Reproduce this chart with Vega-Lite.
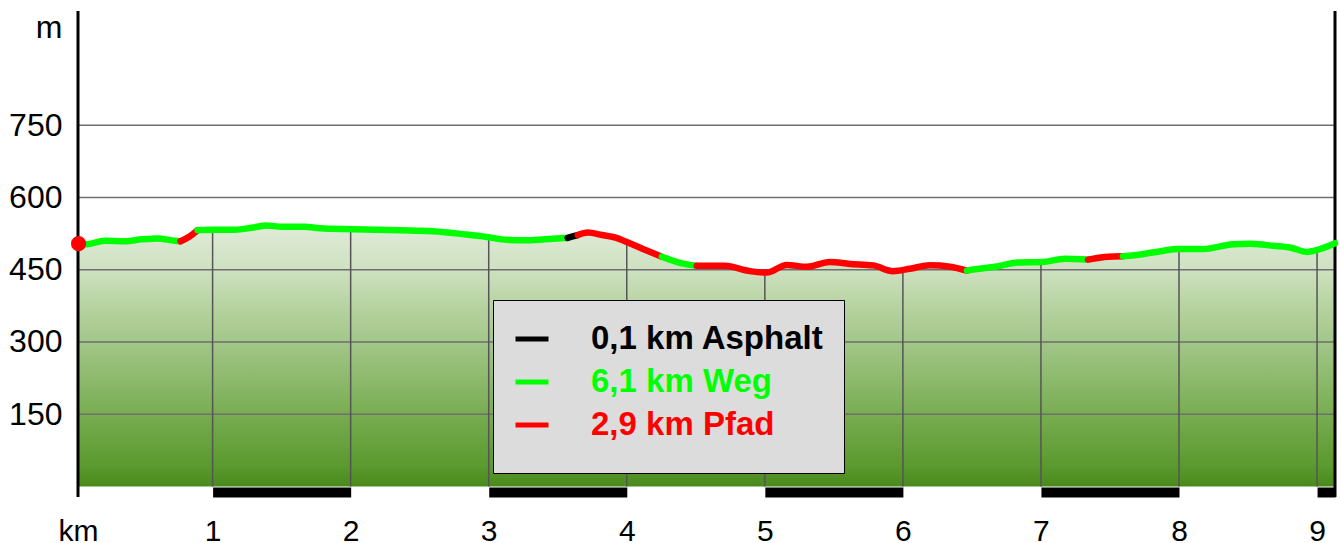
{
  "$schema": "https://vega.github.io/schema/vega-lite/v6.json",
  "width": 1257,
  "height": 486,
  "autosize": {"type": "none"},
  "padding": {"left": 78, "top": 11, "right": 5, "bottom": 46},
  "background": "white",
  "config": {
    "view": {"stroke": null},
    "font": "Liberation Sans"
  },
  "datasets": {
    "profile": [
      {"km": 0.029, "elev": 504, "seg": 1, "surface": "6,1 km Weg"},
      {"km": 0.094, "elev": 503, "seg": 1, "surface": "6,1 km Weg"},
      {"km": 0.217, "elev": 510, "seg": 1, "surface": "6,1 km Weg"},
      {"km": 0.362, "elev": 509, "seg": 1, "surface": "6,1 km Weg"},
      {"km": 0.486, "elev": 513, "seg": 1, "surface": "6,1 km Weg"},
      {"km": 0.601, "elev": 515, "seg": 1, "surface": "6,1 km Weg"},
      {"km": 0.725, "elev": 510, "seg": 1, "surface": "6,1 km Weg"},
      {"km": 0.768, "elev": 509, "seg": 1, "surface": "6,1 km Weg"},
      {"km": 0.768, "elev": 509, "seg": 2, "surface": "2,9 km Pfad"},
      {"km": 0.833, "elev": 519, "seg": 2, "surface": "2,9 km Pfad"},
      {"km": 0.891, "elev": 532, "seg": 2, "surface": "2,9 km Pfad"},
      {"km": 0.891, "elev": 532, "seg": 3, "surface": "6,1 km Weg"},
      {"km": 1.014, "elev": 533, "seg": 3, "surface": "6,1 km Weg"},
      {"km": 1.159, "elev": 533, "seg": 3, "surface": "6,1 km Weg"},
      {"km": 1.283, "elev": 537, "seg": 3, "surface": "6,1 km Weg"},
      {"km": 1.391, "elev": 542, "seg": 3, "surface": "6,1 km Weg"},
      {"km": 1.5, "elev": 539, "seg": 3, "surface": "6,1 km Weg"},
      {"km": 1.667, "elev": 539, "seg": 3, "surface": "6,1 km Weg"},
      {"km": 1.775, "elev": 536, "seg": 3, "surface": "6,1 km Weg"},
      {"km": 2.014, "elev": 534, "seg": 3, "surface": "6,1 km Weg"},
      {"km": 2.355, "elev": 532, "seg": 3, "surface": "6,1 km Weg"},
      {"km": 2.594, "elev": 530, "seg": 3, "surface": "6,1 km Weg"},
      {"km": 2.841, "elev": 523, "seg": 3, "surface": "6,1 km Weg"},
      {"km": 2.986, "elev": 518, "seg": 3, "surface": "6,1 km Weg"},
      {"km": 3.13, "elev": 512, "seg": 3, "surface": "6,1 km Weg"},
      {"km": 3.261, "elev": 511, "seg": 3, "surface": "6,1 km Weg"},
      {"km": 3.406, "elev": 513, "seg": 3, "surface": "6,1 km Weg"},
      {"km": 3.572, "elev": 516, "seg": 3, "surface": "6,1 km Weg"},
      {"km": 3.572, "elev": 516, "seg": 4, "surface": "0,1 km Asphalt"},
      {"km": 3.623, "elev": 520, "seg": 4, "surface": "0,1 km Asphalt"},
      {"km": 3.645, "elev": 522, "seg": 4, "surface": "0,1 km Asphalt"},
      {"km": 3.645, "elev": 522, "seg": 5, "surface": "2,9 km Pfad"},
      {"km": 3.717, "elev": 527, "seg": 5, "surface": "2,9 km Pfad"},
      {"km": 3.819, "elev": 522, "seg": 5, "surface": "2,9 km Pfad"},
      {"km": 3.935, "elev": 515, "seg": 5, "surface": "2,9 km Pfad"},
      {"km": 3.986, "elev": 509, "seg": 5, "surface": "2,9 km Pfad"},
      {"km": 4.109, "elev": 494, "seg": 5, "surface": "2,9 km Pfad"},
      {"km": 4.254, "elev": 477, "seg": 5, "surface": "2,9 km Pfad"},
      {"km": 4.254, "elev": 477, "seg": 6, "surface": "6,1 km Weg"},
      {"km": 4.399, "elev": 463, "seg": 6, "surface": "6,1 km Weg"},
      {"km": 4.507, "elev": 458, "seg": 6, "surface": "6,1 km Weg"},
      {"km": 4.507, "elev": 458, "seg": 7, "surface": "2,9 km Pfad"},
      {"km": 4.71, "elev": 458, "seg": 7, "surface": "2,9 km Pfad"},
      {"km": 4.891, "elev": 447, "seg": 7, "surface": "2,9 km Pfad"},
      {"km": 5.014, "elev": 444, "seg": 7, "surface": "2,9 km Pfad"},
      {"km": 5.159, "elev": 460, "seg": 7, "surface": "2,9 km Pfad"},
      {"km": 5.304, "elev": 456, "seg": 7, "surface": "2,9 km Pfad"},
      {"km": 5.471, "elev": 466, "seg": 7, "surface": "2,9 km Pfad"},
      {"km": 5.616, "elev": 462, "seg": 7, "surface": "2,9 km Pfad"},
      {"km": 5.783, "elev": 459, "seg": 7, "surface": "2,9 km Pfad"},
      {"km": 5.928, "elev": 447, "seg": 7, "surface": "2,9 km Pfad"},
      {"km": 6.051, "elev": 452, "seg": 7, "surface": "2,9 km Pfad"},
      {"km": 6.196, "elev": 459, "seg": 7, "surface": "2,9 km Pfad"},
      {"km": 6.341, "elev": 456, "seg": 7, "surface": "2,9 km Pfad"},
      {"km": 6.464, "elev": 448, "seg": 7, "surface": "2,9 km Pfad"},
      {"km": 6.464, "elev": 448, "seg": 8, "surface": "6,1 km Weg"},
      {"km": 6.522, "elev": 451, "seg": 8, "surface": "6,1 km Weg"},
      {"km": 6.667, "elev": 456, "seg": 8, "surface": "6,1 km Weg"},
      {"km": 6.833, "elev": 465, "seg": 8, "surface": "6,1 km Weg"},
      {"km": 7.007, "elev": 466, "seg": 8, "surface": "6,1 km Weg"},
      {"km": 7.174, "elev": 473, "seg": 8, "surface": "6,1 km Weg"},
      {"km": 7.341, "elev": 471, "seg": 8, "surface": "6,1 km Weg"},
      {"km": 7.341, "elev": 471, "seg": 9, "surface": "2,9 km Pfad"},
      {"km": 7.486, "elev": 477, "seg": 9, "surface": "2,9 km Pfad"},
      {"km": 7.594, "elev": 478, "seg": 9, "surface": "2,9 km Pfad"},
      {"km": 7.594, "elev": 478, "seg": 10, "surface": "6,1 km Weg"},
      {"km": 7.732, "elev": 482, "seg": 10, "surface": "6,1 km Weg"},
      {"km": 7.877, "elev": 489, "seg": 10, "surface": "6,1 km Weg"},
      {"km": 7.993, "elev": 493, "seg": 10, "surface": "6,1 km Weg"},
      {"km": 8.174, "elev": 493, "seg": 10, "surface": "6,1 km Weg"},
      {"km": 8.391, "elev": 503, "seg": 10, "surface": "6,1 km Weg"},
      {"km": 8.514, "elev": 504, "seg": 10, "surface": "6,1 km Weg"},
      {"km": 8.638, "elev": 501, "seg": 10, "surface": "6,1 km Weg"},
      {"km": 8.804, "elev": 496, "seg": 10, "surface": "6,1 km Weg"},
      {"km": 8.928, "elev": 487, "seg": 10, "surface": "6,1 km Weg"},
      {"km": 9.022, "elev": 493, "seg": 10, "surface": "6,1 km Weg"},
      {"km": 9.13, "elev": 505, "seg": 10, "surface": "6,1 km Weg"}
    ],
    "grid": [{"elev": 150}, {"elev": 300}, {"elev": 450}, {"elev": 600}, {"elev": 750}],
    "kmticks": [
      {"km": 1, "elev": 533}, {"km": 2, "elev": 534}, {"km": 3, "elev": 518},
      {"km": 4, "elev": 508}, {"km": 5, "elev": 444}, {"km": 6, "elev": 451},
      {"km": 7, "elev": 466}, {"km": 8, "elev": 493}, {"km": 9, "elev": 494}
    ],
    "borders": [{"km": 0.025}, {"km": 9.13}],
    "start": [{"km": 0.029, "elev": 504}]
  },
  "layer": [
    {
      "data": {"name": "profile"},
      "transform": [
        {"aggregate": [{"op": "mean", "field": "elev", "as": "elev"}], "groupby": ["km"]}
      ],
      "mark": {
        "type": "area",
        "interpolate": "monotone",
        "fill": {
          "gradient": "linear", "x1": 0, "y1": 0, "x2": 0, "y2": 1,
          "stops": [
            {"offset": 0, "color": "#e0ebd8"},
            {"offset": 0.17, "color": "#cee1c1"},
            {"offset": 0.3, "color": "#b8d4a2"},
            {"offset": 0.45, "color": "#a2c688"},
            {"offset": 0.72, "color": "#78ad52"},
            {"offset": 0.92, "color": "#5a9a2e"},
            {"offset": 1, "color": "#4a8a1c"}
          ]
        }
      },
      "encoding": {
        "x": {
          "field": "km", "type": "quantitative",
          "scale": {"domain": [0.025, 9.13], "nice": false, "zero": false, "padding": 0},
          "axis": {
            "values": [0.025, 1, 2, 3, 4, 5, 6, 7, 8, 9],
            "labelExpr": "datum.value < 0.5 ? 'km' : format(datum.value, 'd')",
            "offset": -5,
            "domain": true, "domainColor": "#000000", "domainWidth": 10,
            "domainDash": [138.056, 138.056], "domainDashOffset": 141.5,
            "ticks": false, "tickSize": 0, "grid": false,
            "labelFlush": false, "labelOverlap": false, "labelBound": false,
            "labelFontSize": 30, "labelColor": "#000000", "labelFont": "Liberation Sans",
            "labelPadding": 24, "title": null
          }
        },
        "y": {
          "field": "elev", "type": "quantitative",
          "scale": {"domain": [-21.8, 987], "nice": false, "zero": false, "padding": 0},
          "axis": {
            "values": [150, 300, 450, 600, 750],
            "domain": false, "ticks": false, "tickSize": 0, "grid": false,
            "labelFontSize": 32, "labelColor": "#000000", "labelFont": "Liberation Sans",
            "labelPadding": 16,
            "title": "m", "titleAngle": 0, "titleAlign": "right", "titleBaseline": "middle",
            "titleX": -16, "titleY": 16, "titleFontSize": 32, "titleFontWeight": "normal",
            "titleFont": "Liberation Sans", "titleColor": "#000000"
          }
        }
      }
    },
    {
      "data": {"name": "grid"},
      "mark": {"type": "rule", "color": "#6e6e6e", "strokeWidth": 1.5},
      "encoding": {
        "y": {"field": "elev", "type": "quantitative"}
      }
    },
    {
      "data": {"name": "kmticks"},
      "mark": {"type": "bar", "color": "#555555", "size": 1.5},
      "encoding": {
        "x": {"field": "km", "type": "quantitative"},
        "y": {"field": "elev", "type": "quantitative"}
      }
    },
    {
      "data": {"name": "borders"},
      "mark": {"type": "rule", "color": "#000000", "strokeWidth": 3},
      "encoding": {"x": {"field": "km", "type": "quantitative"}}
    },
    {
      "data": {"name": "profile"},
      "mark": {"type": "line", "interpolate": "monotone", "strokeWidth": 6.5, "strokeCap": "round", "strokeJoin": "round"},
      "encoding": {
        "x": {"field": "km", "type": "quantitative"},
        "y": {"field": "elev", "type": "quantitative"},
        "detail": {"field": "seg", "type": "nominal"},
        "color": {
          "field": "surface", "type": "nominal",
          "scale": {
            "domain": ["0,1 km Asphalt", "6,1 km Weg", "2,9 km Pfad"],
            "range": ["#000000", "#00ff00", "#ff0000"]
          },
          "legend": {
            "orient": "none", "legendX": 415, "legendY": 289,
            "title": " ", "titleOrient": "bottom", "titleFontSize": 12, "titlePadding": 0,
            "direction": "vertical",
            "symbolType": "stroke", "symbolSize": 1089, "symbolStrokeWidth": 5,
            "labelFontSize": 33, "labelFont": "Liberation Sans", "labelFontWeight": "bold",
            "labelColor": {"expr": "scale('color', datum.value)"},
            "labelOffset": 40, "labelLimit": 400,
            "padding": 20, "rowPadding": 7,
            "fillColor": "#dcdcdc", "strokeColor": "#000000"
          }
        }
      }
    },
    {
      "data": {"name": "start"},
      "mark": {"type": "point", "filled": true, "color": "#ff0000", "size": 230, "opacity": 1},
      "encoding": {
        "x": {"field": "km", "type": "quantitative"},
        "y": {"field": "elev", "type": "quantitative"}
      }
    }
  ]
}
